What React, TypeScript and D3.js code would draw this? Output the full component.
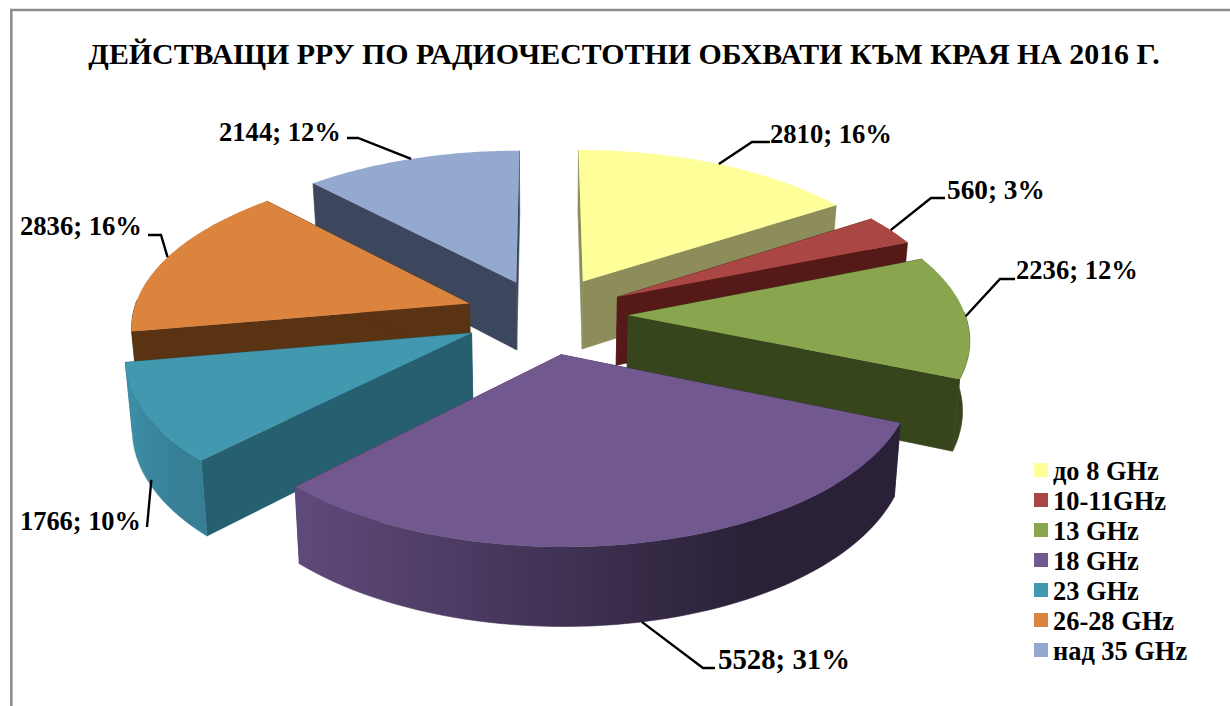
import React from "react";
import * as d3 from "d3";

const categories = ["до 8 GHz", "10-11GHz", "13 GHz", "18 GHz", "23 GHz", "26-28 GHz", "над 35 GHz"];
const values = [2810, 560, 2236, 5528, 1766, 2836, 2144];
const percents = [16, 3, 12, 31, 10, 16, 12];
const topColors = ["#FFFF99", "#AA4643", "#89A54E", "#71588F", "#4198AF", "#DB843D", "#93A9CF"];
const radialColors = ["#8D8D5C", "#551A17", "#37451C", "#3C2F4F", "#265F6F", "#5A3312", "#3C475D"];
const curveFrom = ["#8D8D5C", "#6B2A28", "#37451C", "#5F4A7B", "#3D8FA8", "#5A3312", "#3C475D"];
const curveTo = ["#8D8D5C", "#551A17", "#37451C", "#2A2138", "#367F95", "#5A3312", "#3C475D"];
const explode = [0.25, 0.25, 0.25, 0.25, 0.24, 0.235, 0.23];
const paintOrder = [6, 0, 1, 2, 5, 4, 3];
const labelX = [770, 947, 1016, 718, 20, 20, 219];
const labelY = [143, 199, 279, 669, 530, 235, 141];
const labelSize = [26.6, 27.3, 26.6, 28.8, 26.4, 26.6, 26.6];
const elbowX = [752, 931, 1000, 703, 147, 161, 358];
const elbowY = [142, 198, 279, 668, 527, 235, 138];
const tailX = [770, 945, 1015, 715, 147, 148, 347];
const anchorZ = [0, 0, 0, 1, 0.9, 0, 0];

const W = 1230, H = 706;
const cx = 544, cy = 315, R = 337, KR = 156.5, P = 0.1287;
const serif = "'Liberation Serif', 'Times New Roman', serif";

const project = (theta: number, r: number, z: number, e: number, mid: number): [number, number] => {
  const u = r * Math.sin(theta) + e * Math.sin(mid);
  const v = r * Math.cos(theta) + e * Math.cos(mid);
  const s = 1 / (1 + P * v);
  return [cx + s * u * R * (1 - 0.017 * z), cy - s * v * KR + z * (14 + 55 * s)];
};

export default function App() {
  const arcs = d3.pie<number>().sort(null).startAngle(0).endAngle(2 * Math.PI)(values);
  const line = d3.line();
  const slices = arcs.map((a, i) => {
    const mid = (a.startAngle + a.endAngle) / 2;
    const e = explode[i];
    const pt = (t: number, r: number, z: number) => project(t, r, z, e, mid);
    const thetas = d3.range(0, 61).map((k) => a.startAngle + ((a.endAngle - a.startAngle) * k) / 60);
    const outerTop = thetas.map((t) => pt(t, 1, 0));
    const top = line([pt(0, 0, 0), ...outerTop])! + "Z";
    const radial = (t: number) => line([pt(0, 0, 0), pt(t, 1, 0), pt(t, 1, 1), pt(0, 0, 1)])! + "Z";
    const lo = Math.max(a.startAngle, Math.PI / 2 - 0.02);
    const hi = Math.min(a.endAngle, (3 * Math.PI) / 2 + 0.02);
    let curve = "";
    let x0 = 0, x1 = 1;
    if (hi > lo) {
      const ts = d3.range(0, 61).map((k) => lo + ((hi - lo) * k) / 60);
      const upper = ts.map((t) => pt(t, 1, 0));
      const lower = ts.map((t) => pt(t, 1, 1)).reverse();
      curve = line([...upper, ...lower])! + "Z";
      const xs = upper.map((d) => d[0]);
      x0 = d3.min(xs)!;
      x1 = d3.max(xs)!;
    }
    return { i, mid, e, top, curve, x0, x1, start: radial(a.startAngle), end: radial(a.endAngle), anchor: pt(mid, 1, anchorZ[i]) };
  });

  return (
    <svg width={W} height={H} viewBox={`0 0 ${W} ${H}`} style={{ position: "absolute", left: 0, top: 0, display: "block", background: "#fff" }}>
      <defs>
        {slices.map((s) => (
          <linearGradient key={s.i} id={`curve${s.i}`} gradientUnits="userSpaceOnUse" x1={s.x0} x2={s.x1} y1={0} y2={0}>
            <stop offset="0" stopColor={curveFrom[s.i]} />
            <stop offset="0.75" stopColor={curveTo[s.i]} />
            <stop offset="1" stopColor={curveTo[s.i]} />
          </linearGradient>
        ))}
      </defs>
      <path d={`M11.3,${H}V10H${W}`} fill="none" stroke="#8E8E8E" strokeWidth={2.6} />
      <text x={624} y={64} textAnchor="middle" fontFamily={serif} fontWeight="bold" fontSize={29.9} fill="#000">
        ДЕЙСТВАЩИ РРУ ПО РАДИОЧЕСТОТНИ ОБХВАТИ КЪМ КРАЯ НА 2016 Г.
      </text>
      {paintOrder.map((i) => {
        const s = slices[i];
        return (
          <g key={i}>
            <path d={s.start} fill={radialColors[i]} stroke={radialColors[i]} strokeWidth={0.6} />
            <path d={s.end} fill={radialColors[i]} stroke={radialColors[i]} strokeWidth={0.6} />
            {s.curve && <path d={s.curve} fill={`url(#curve${i})`} stroke={`url(#curve${i})`} strokeWidth={0.6} />}
            <path d={s.top} fill={topColors[i]} />
          </g>
        );
      })}
      {slices.map((s) => {
        const i = s.i;
        const pts: [number, number][] = i === 4
          ? [s.anchor, [elbowX[i], elbowY[i]]]
          : [s.anchor, [elbowX[i], elbowY[i]], [tailX[i], elbowY[i]]];
        return <path key={i} d={line(pts)!} fill="none" stroke="#000" strokeWidth={2.4} />;
      })}
      {slices.map((s) => (
        <text key={s.i} x={labelX[s.i]} y={labelY[s.i]} fontFamily={serif} fontWeight="bold" fontSize={labelSize[s.i]} fill="#000">
          {`${values[s.i]}; ${percents[s.i]}%`}
        </text>
      ))}
      {categories.map((c, i) => (
        <g key={c}>
          <rect x={1034} y={463 + 30 * i} width={14} height={14} fill={topColors[i]} />
          <text x={1053} y={480 + 30 * i} fontFamily={serif} fontWeight="bold" fontSize={26.4} fill="#000">{c}</text>
        </g>
      ))}
    </svg>
  );
}
